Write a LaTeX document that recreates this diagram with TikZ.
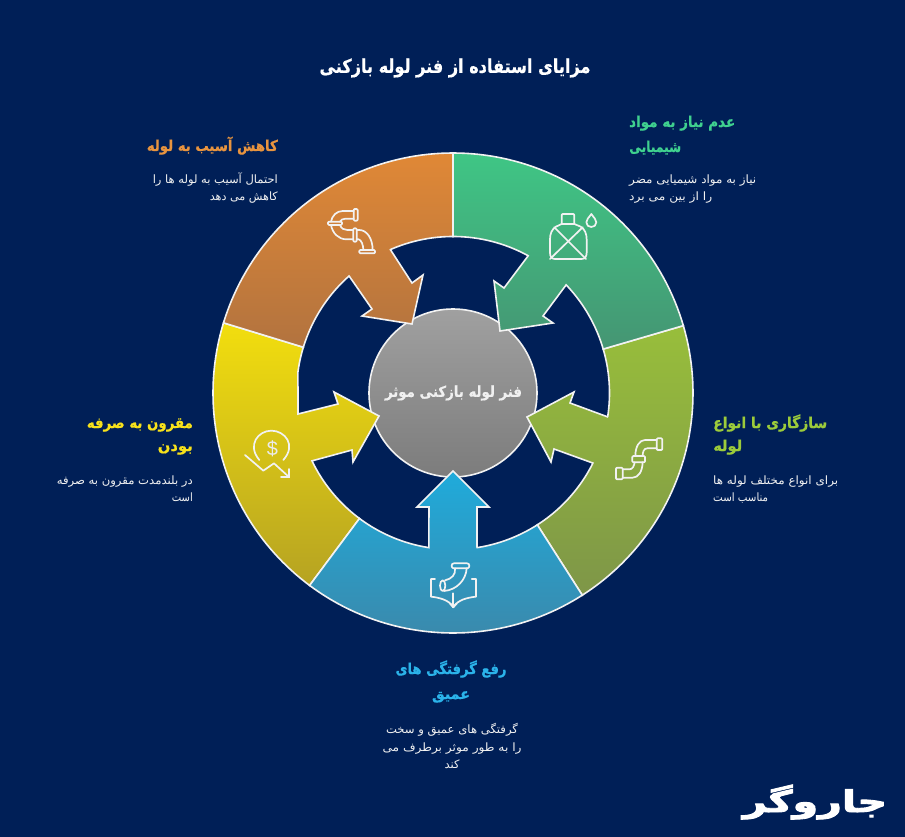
\documentclass[tikz,border=0pt]{standalone}
\usepackage{fontspec}
\usepackage{graphicx}
\newfontfamily\farsi[Script=Arabic]{DejaVu Sans}
\newfontfamily\farsihead[Script=Arabic,FakeBold=0.6]{DejaVu Sans Bold}
\newfontfamily\farsilogo[Script=Arabic,FakeBold=3]{DejaVu Sans Bold}
\TeXXeTstate=1
\definecolor{bgc}{HTML}{001F57}
\definecolor{strk}{HTML}{F2F2F2}
\definecolor{ot}{HTML}{E08836}\definecolor{ob}{HTML}{B2733F}
\definecolor{gt}{HTML}{3FC685}\definecolor{gb}{HTML}{459573}
\definecolor{lt}{HTML}{98BE3B}\definecolor{lb}{HTML}{7E9648}
\definecolor{bt}{HTML}{1FABDB}\definecolor{bb}{HTML}{3A8AAD}
\definecolor{yt}{HTML}{F2DE0E}\definecolor{yb}{HTML}{B6A322}
\definecolor{ct}{HTML}{A0A0A0}\definecolor{cb}{HTML}{7C7C7C}
\definecolor{oh}{HTML}{E8943F}
\definecolor{gh}{HTML}{3FD08F}
\definecolor{lh}{HTML}{9CCB3B}
\definecolor{bh}{HTML}{2BB3EA}
\definecolor{yh}{HTML}{F7E11B}
\newcommand{\fitline}[2]{\resizebox{#1pt}{\height}{#2}}
\tikzset{
  oa/.style 2 args={insert path={plot[domain=#1:#2,samples=50] ({453+240*cos(\x)},{393-240*sin(\x)})}},
  ia/.style 2 args={insert path={-- plot[domain=#1:#2,samples=30] ({453+156.5*cos(\x)},{393-156.5*sin(\x)})}},
  seg/.style={draw=strk,line width=1.6pt,line join=miter},
  ico/.style={draw=white!95!black,line width=1.7pt,line cap=round,line join=round},
  title/.style={font=\farsihead\fontsize{19}{22}\selectfont,text=white,inner sep=0pt},
  head/.style={font=\farsihead\fontsize{15}{18}\selectfont,inner sep=0pt},
  body/.style={font=\farsi\fontsize{11.5}{14}\selectfont,text=white!95!black,inner sep=0pt},
}
\begin{document}
\begin{tikzpicture}[x=1pt,y=-1pt]
\useasboundingbox (0,0) rectangle (905,837);
\fill[bgc] (0,0) rectangle (905,837);

% centre
\node[circle,minimum size=168pt,inner sep=0pt,draw=strk,line width=1.6pt,top color=ct,bottom color=cb] (hub) at (453,393) {};
\node[font=\farsihead\fontsize{15}{18}\selectfont,text=white!94!black,inner sep=0pt] (hubtext) at (453.5,393) {\fitline{137}{\beginR فنر لوله بازکنی موثر\endR}};

% segments
\path[seg,top color=lt,bottom color=lb,oa={16.3}{-57.4},ia={-57.4}{-26.6}] -- (554,449) -- (551,462) -- (527,417) -- (574,392) -- (570,403) -- (608,417) [ia={-8.8}{16.3}] -- cycle;
\path[seg,top color=gt,bottom color=gb,oa={90}{16.3},ia={16.3}{43.7}] -- (543,316) -- (553,323) -- (500,331) -- (494,281) -- (504,288) -- (528,256) [ia={61.3}{90}] -- cycle;
\path[seg,top color=yt,bottom color=yb,oa={163}{233.3},ia={233.3}{205.7}] -- (352,450) -- (353,462) -- (379,416) -- (334,392) -- (338,404) -- (298,414) [ia={172.3}{163}] -- cycle;
\path[seg,top color=bt,bottom color=bb,oa={-57.4}{-126.7},ia={-126.7}{-98.9}] -- (429,507) -- (417,507) -- (453,471) -- (489,507) -- (477,507) -- (477,547) [ia={-81.1}{-57.4}] -- cycle;
\path[seg,top color=ot,bottom color=ob,oa={90}{163},ia={163}{131.6}] -- (372,309) -- (362,316) -- (412,324) -- (423,275) -- (412,283) -- (390,249) [ia={113.6}{90}] -- cycle;

% icon: orange pipes
\begin{scope}[shift={(320,200)},x=.3333pt,y=-.3333pt]
\draw[ico,rounded corners=1pt] (101,27) rectangle (113,62);
\draw[ico,rounded corners=1pt] (24,65) rectangle (66,75);
\draw[ico,rounded corners=1pt] (100,85) rectangle (110,125);
\draw[ico,rounded corners=1pt] (118,150) rectangle (165,160);
\draw[ico] (101,33) -- (68,33) .. controls (50,33) and (36,47) .. (33,65);
\draw[ico] (101,56) -- (76,56) .. controls (68,56) and (62,60) .. (60,65);
\draw[ico] (33,75) .. controls (38,100) and (55,118) .. (80,118) -- (100,118);
\draw[ico] (60,75) .. controls (64,86) and (72,90) .. (82,90) -- (100,90);
\draw[ico] (110,90) -- (118,90) .. controls (140,90) and (158,115) .. (158,150);
\draw[ico] (110,118) -- (116,118) .. controls (124,120) and (130,135) .. (130,150);
\end{scope}

% icon: green canister
\begin{scope}[shift={(450,140)},x=.3333pt,y=-.3333pt]
\draw[ico,rounded corners=1pt] (335,252) -- (335,222) -- (373,222) -- (373,252);
\draw[ico] (335,252) -- (318,260) .. controls (305,268) and (300,282) .. (300,298) -- (300,338) .. controls (300,350) and (305,357) .. (315,357) -- (395,357) .. controls (405,357) and (410,350) .. (410,338) -- (410,298) .. controls (410,282) and (405,268) .. (392,260) -- (373,252) -- cycle;
\draw[ico] (313,262) -- (408,357);
\draw[ico] (398,262) -- (300,357);
\draw[ico] (424,222) .. controls (432,234) and (439,238) .. (439,247) .. controls (439,256) and (432,261) .. (424,261) .. controls (416,261) and (409,256) .. (409,247) .. controls (409,238) and (416,234) .. (424,222) -- cycle;
\end{scope}

% icon: lime pipe
\begin{scope}[shift={(610,430)},x=.3333pt,y=-.3333pt]
\draw[ico,rounded corners=1pt] (140,25) rectangle (157,60);
\draw[ico,rounded corners=1pt] (67,78) rectangle (105,97);
\draw[ico,rounded corners=1pt] (18,113) rectangle (38,148);
\draw[ico] (140,30) -- (105,30) .. controls (88,30) and (76,50) .. (76,78);
\draw[ico] (140,55) -- (112,55) .. controls (102,55) and (98,65) .. (98,78);
\draw[ico] (38,118) -- (58,118) .. controls (68,118) and (72,108) .. (74,97);
\draw[ico] (38,143) -- (68,143) .. controls (85,143) and (97,125) .. (98,97);
\end{scope}

% icon: blue pipe and book
\begin{scope}[shift={(420,555)},x=.3333pt,y=-.3333pt]
\draw[ico,rounded corners=2.2pt] (95,25) rectangle (148,40);
\draw[ico] (105,40) .. controls (108,58) and (95,72) .. (75,76);
\draw[ico] (140,40) .. controls (138,75) and (110,105) .. (72,108);
\draw[ico] (68,92) ellipse [x radius=8,y radius=16];
\draw[ico] (45,72) -- (33,72) -- (33,125) .. controls (60,128) and (85,135) .. (100,155) .. controls (115,135) and (140,128) .. (168,125) -- (168,72) -- (155,72);
\draw[ico] (100,115) -- (100,157);
\draw[ico] (90,146) -- (100,157) -- (110,146);
\end{scope}

% icon: yellow falling dollar
\begin{scope}[shift={(200,380)},x=.3333pt,y=-.3333pt]
\draw[ico] (178,240) .. controls (140,195) and (175,152) .. (214,152) .. controls (255,152) and (290,195) .. (250,240);
\node[font=\fontspec{Liberation Sans}\fontsize{20}{20}\selectfont,text=white!92!black,inner sep=0pt] (dollar) at (217,205) {\$};
\draw[ico] (135,225) -- (190,272) -- (222,250) -- (268,292);
\draw[ico] (243,292) -- (268,292) -- (268,267);
\end{scope}

% title
\node[title] (maintitle) at (455,68) {\fitline{271}{\beginR مزایای استفاده از فنر لوله بازکنی\endR}};

% orange text
\node[head,text=oh,anchor=base east] (oh) at (278,151) {\fitline{131}{\beginR کاهش آسیب به لوله\endR}};
\node[body,anchor=base east] (ob1) at (278,184) {\fitline{125}{\beginR احتمال آسیب به لوله ها را\endR}};
\node[body,anchor=base east] (ob2) at (278,201) {\fitline{68}{\beginR کاهش می دهد\endR}};

% green text
\node[head,text=gh,anchor=base west] (gh1) at (629,127) {\fitline{106}{\beginR عدم نیاز به مواد\endR}};
\node[head,text=gh,anchor=base west] (gh2) at (629,152) {\fitline{52}{\beginR شیمیایی\endR}};
\node[body,anchor=base west] (gb1) at (629,184) {\fitline{127}{\beginR نیاز به مواد شیمیایی مضر\endR}};
\node[body,anchor=base west] (gb2) at (629,201) {\fitline{83}{\beginR را از بین می برد\endR}};

% lime text
\node[head,text=lh,anchor=base west] (lh1) at (713,428) {\fitline{114}{\beginR سازگاری با انواع\endR}};
\node[head,text=lh,anchor=base west] (lh2) at (713,451) {\fitline{29}{\beginR لوله\endR}};
\node[body,anchor=base west] (lb1) at (713,484) {\fitline{125}{\beginR برای انواع مختلف لوله ها\endR}};
\node[body,anchor=base west] (lb2) at (713,501) {\fitline{55}{\beginR مناسب است\endR}};

% blue text
\node[head,text=bh,anchor=base] (bh1) at (451,674) {\fitline{111}{\beginR رفع گرفتگی های\endR}};
\node[head,text=bh,anchor=base] (bh2) at (451,699) {\fitline{38}{\beginR عمیق\endR}};
\node[body,anchor=base] (bb1) at (452,733) {\fitline{132}{\beginR گرفتگی های عمیق و سخت\endR}};
\node[body,anchor=base] (bb2) at (452,751) {\fitline{139}{\beginR را به طور موثر برطرف می\endR}};
\node[body,anchor=base] (bb3) at (452,768) {\fitline{15}{\beginR کند\endR}};

% yellow text
\node[head,text=yh,anchor=base east] (yh1) at (193,428) {\fitline{106}{\beginR مقرون به صرفه\endR}};
\node[head,text=yh,anchor=base east] (yh2) at (193,451) {\fitline{35}{\beginR بودن\endR}};
\node[body,anchor=base east] (yb1) at (193,484) {\fitline{136}{\beginR در بلندمدت مقرون به صرفه\endR}};
\node[body,anchor=base east] (yb2) at (193,501) {\fitline{21}{\beginR است\endR}};

% logo
\node[font=\farsilogo\fontsize{30}{34}\selectfont,text=white,inner sep=0pt,anchor=base] (logo) at (815,812) {\fitline{144}{\beginR جاروگر\endR}};
\end{tikzpicture}
\end{document}
